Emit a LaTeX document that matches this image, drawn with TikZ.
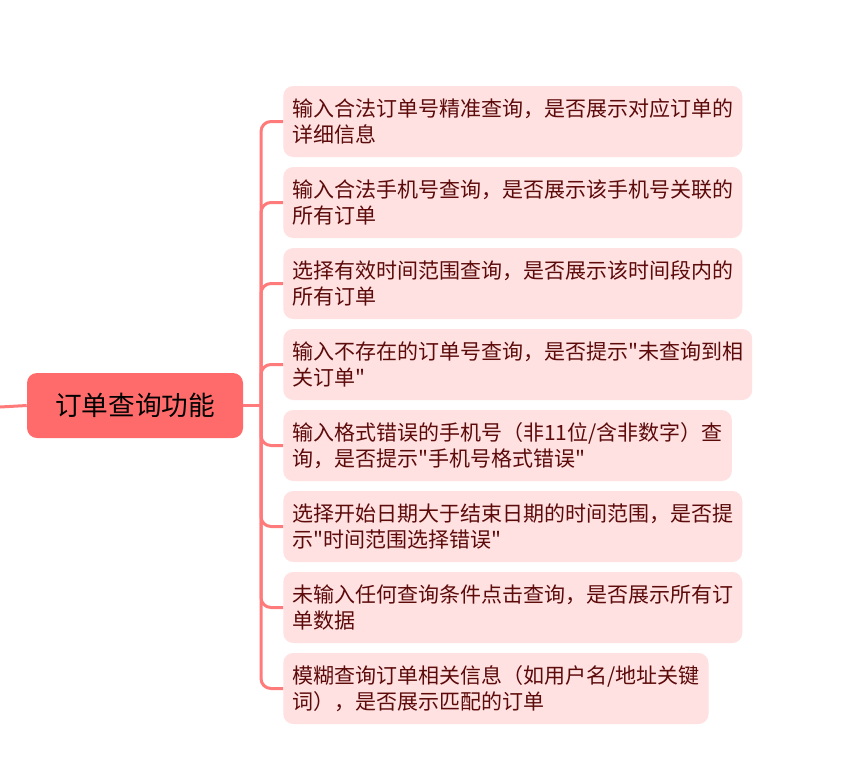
\documentclass[tikz,border=0pt]{standalone}
\usepackage{fontspec}
\setmainfont{Noto Sans CJK SC}[Ligatures=TeXOff]
\definecolor{rootred}{HTML}{FF6B6B}
\definecolor{branchred}{HTML}{FF7B7B}
\definecolor{leafpink}{HTML}{FFE1E1}
\definecolor{leaftext}{HTML}{5C0A0A}

\tikzset{
  topic/.style={fill=rootred, rounded corners=7.5pt, minimum width=162pt,
    minimum height=48.75pt, inner sep=0pt, font=\fontsize{20}{24}\selectfont},
  leaf/.style={fill=leafpink, rounded corners=7.5pt, anchor=west, align=left,
    inner xsep=6.75pt, inner ysep=0pt, minimum height=53.25pt, text=leaftext,
    font=\fontsize{15.75}{19.5}\selectfont},
  branch/.style={draw=branchred, line width=2.25pt, rounded corners=7.5pt}
}

\begin{document}
\begin{tikzpicture}[x=0.75pt, y=-0.75pt]
  \useasboundingbox (0,0) rectangle (841,768);

  % central topic
  \node[topic] (func) at (135,405.5) {订单查询功能};
  \coordinate (left) at (0,407);
  \coordinate (hub) at (261,405.5);

  % test cases
  \node[leaf] (q1) at (283,121.5) {输入合法订单号精准查询，是否展示对应订单的\\详细信息};
  \node[leaf] (q2) at (283,202.5) {输入合法手机号查询，是否展示该手机号关联的\\所有订单};
  \node[leaf] (q3) at (283,283.5) {选择有效时间范围查询，是否展示该时间段内的\\所有订单};
  \node[leaf] (q4) at (283,364.5) {输入不存在的订单号查询，是否提示"未查询到相\\关订单"};
  \node[leaf] (q5) at (283,445.5) {输入格式错误的手机号（非11位/含非数字）查\\询，是否提示"手机号格式错误"};
  \node[leaf] (q6) at (283,526.5) {选择开始日期大于结束日期的时间范围，是否提\\示"时间范围选择错误"};
  \node[leaf] (q7) at (283,607.5) {未输入任何查询条件点击查询，是否展示所有订\\单数据};
  \node[leaf] (q8) at (283,688.5) {模糊查询订单相关信息（如用户名/地址关键\\词），是否展示匹配的订单};

  % connectors
  \draw[branch] (left) -- (func.west);
  \draw[branch] (func.east) -- (hub);
  \draw[branch] (hub) |- (q1.west);
  \draw[branch] (hub) |- (q2.west);
  \draw[branch] (hub) |- (q3.west);
  \draw[branch] (hub) |- (q4.west);
  \draw[branch] (hub) |- (q5.west);
  \draw[branch] (hub) |- (q6.west);
  \draw[branch] (hub) |- (q7.west);
  \draw[branch] (hub) |- (q8.west);
\end{tikzpicture}
\end{document}
